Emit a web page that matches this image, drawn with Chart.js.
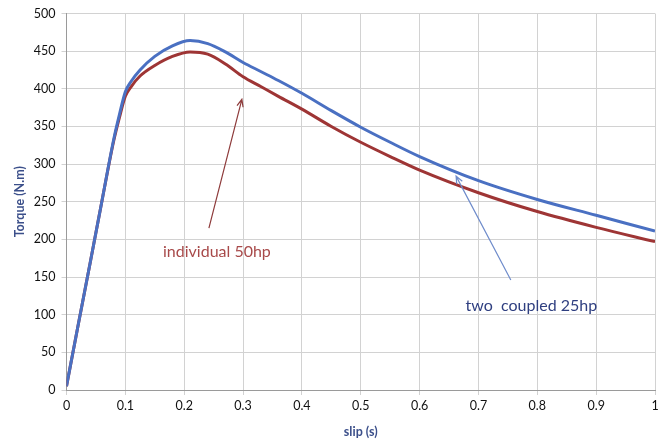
<!DOCTYPE html>
<html>
<head>
<meta charset="utf-8">
<script src="https://cdn.jsdelivr.net/npm/chart.js@4/dist/chart.umd.min.js"></script>
<style>
  html, body { margin: 0; padding: 0; background: #fff; }
  #wrap { width: 669px; height: 443px; }
</style>
</head>
<body>
<div id="wrap"><canvas id="torqueChart" width="669" height="443"></canvas></div>
<script>
// torque–slip curves
const slip = [0, 0.02, 0.04, 0.06, 0.08, 0.09, 0.1, 0.11, 0.125, 0.15, 0.18, 0.21, 0.24, 0.27, 0.3, 0.33, 0.36, 0.4, 0.45, 0.5, 0.55, 0.6, 0.7, 0.8, 0.9, 1];
const torqueCoupled = [5, 87, 168, 250, 332, 366, 396, 410, 425, 443, 457, 464, 460, 449, 435, 423, 411, 394, 371, 349, 329, 310, 278, 253, 232, 211];
const torqueIndividual = [5, 87, 168, 250, 330, 362, 390, 403, 417, 431, 443, 449, 446, 433, 416, 403, 390, 373, 350, 329, 310, 292, 262, 237, 216, 197];

const xTicks = [0, 0.1, 0.2, 0.3, 0.4, 0.5, 0.6, 0.7, 0.8, 0.9, 1];

// callouts: text anchor and arrow (tail -> head) in data units
const callouts = [
  { text: "individual 50hp", at: [0.164, 184], from: [0.242, 215], to: [0.298, 386], color: "#a84a4a", arrow: "#8e3b3b" },
  { text: "two  coupled 25hp", at: [0.678, 112], from: [0.755, 146], to: [0.662, 284], color: "#2f3f80", arrow: "#6f8ccb" }
];

const toPoints = ys => ys.map((y, i) => ({ x: slip[i], y }));

const calloutPlugin = {
  id: "callouts",
  afterDatasetsDraw(chart) {
    const { ctx, scales: { x, y } } = chart;
    ctx.save();
    callouts.forEach(c => {
      const x1 = x.getPixelForValue(c.from[0]), y1 = y.getPixelForValue(c.from[1]);
      const x2 = x.getPixelForValue(c.to[0]), y2 = y.getPixelForValue(c.to[1]);
      ctx.strokeStyle = c.arrow;
      ctx.lineWidth = 1.2;
      ctx.beginPath();
      ctx.moveTo(x1, y1);
      ctx.lineTo(x2, y2);
      const ang = Math.atan2(y2 - y1, x2 - x1);
      const len = 8;
      ctx.moveTo(x2 - len * Math.cos(ang - 0.4), y2 - len * Math.sin(ang - 0.4));
      ctx.lineTo(x2, y2);
      ctx.lineTo(x2 - len * Math.cos(ang + 0.4), y2 - len * Math.sin(ang + 0.4));
      ctx.stroke();

      ctx.fillStyle = c.color;
      ctx.font = "16px Lato";
      ctx.textBaseline = "middle";
      ctx.textAlign = "left";
      ctx.fillText(c.text, x.getPixelForValue(c.at[0]), y.getPixelForValue(c.at[1]));
    });
    ctx.restore();
  }
};

new Chart(document.getElementById("torqueChart"), {
  type: "line",
  data: {
    datasets: [
      {
        label: "two coupled 25hp",
        data: toPoints(torqueCoupled),
        borderColor: "#4a70c2",
        borderWidth: 3,
        pointRadius: 0,
        cubicInterpolationMode: "monotone"
      },
      {
        label: "individual 50hp",
        data: toPoints(torqueIndividual),
        borderColor: "#9e3535",
        borderWidth: 3,
        pointRadius: 0,
        cubicInterpolationMode: "monotone"
      }
    ]
  },
  options: {
    responsive: false,
    animation: false,
    layout: { padding: { top: 10, right: 14, left: 0, bottom: 0 } },
    plugins: { legend: { display: false }, tooltip: { enabled: false } },
    scales: {
      x: {
        type: "linear",
        min: 0,
        max: 1,
        afterBuildTicks: s => { s.ticks = xTicks.map(v => ({ value: v })); },
        afterFit: s => { s.height = 53; },
        grid: { color: "#d2d2d2", tickLength: 5 },
        border: { color: "#9a9a9a" },
        ticks: { color: "#111", font: { family: "Lato", size: 12.5 }, padding: 3, callback: v => String(v) },
        title: { display: true, text: "slip (s)", color: "#3b4f8a", font: { family: "Lato", size: 12.5, weight: "bold" }, padding: { top: 4, bottom: 4 } }
      },
      y: {
        min: 0,
        max: 500,
        afterFit: s => { s.width = 66.5; },
        grid: { color: "#d2d2d2", tickLength: 5 },
        border: { color: "#9a9a9a" },
        ticks: { stepSize: 50, color: "#111", font: { family: "Lato", size: 12.5 }, padding: 6 },
        title: { display: true, text: "Torque (N.m)", color: "#3b4f8a", font: { family: "Lato", size: 12.5, weight: "bold" }, padding: { top: 12, bottom: 0 } }
      }
    }
  },
  plugins: [calloutPlugin]
});
</script>
</body>
</html>
